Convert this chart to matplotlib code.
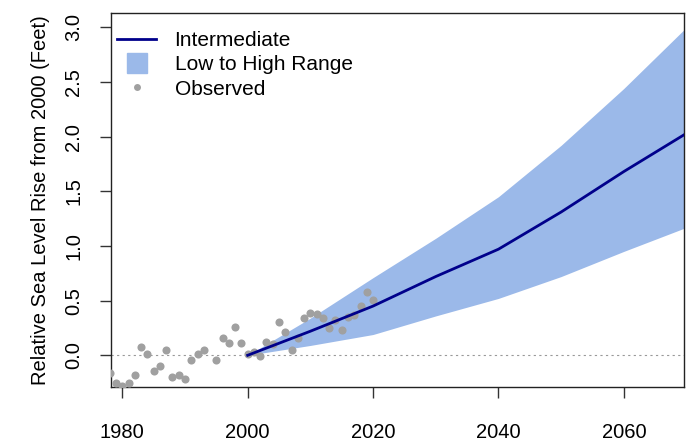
import numpy as np
import matplotlib
matplotlib.use("Agg")
import matplotlib.pyplot as plt
from matplotlib.lines import Line2D

plt.rcParams['font.family'] = ['Liberation Sans', 'DejaVu Sans']

# observed relative sea level (feet, relative to 2000)
obs_years = [1978, 1979, 1980, 1981, 1982, 1983, 1984, 1985, 1986, 1987,
             1988, 1989, 1990, 1991, 1992, 1993, 1995, 1996, 1997, 1998,
             1999, 2000, 2001, 2002, 2003, 2004, 2005, 2006, 2007, 2008,
             2009, 2010, 2011, 2012, 2013, 2014, 2015, 2016, 2017, 2018,
             2019, 2020]
obs_vals = [-0.16, -0.25, -0.28, -0.25, -0.18, 0.08, 0.01, -0.14, -0.10, 0.05,
            -0.20, -0.18, -0.22, -0.04, 0.01, 0.05, -0.04, 0.16, 0.11, 0.26,
            0.11, 0.01, 0.03, -0.01, 0.12, 0.10, 0.30, 0.21, 0.05, 0.16,
            0.34, 0.39, 0.38, 0.34, 0.25, 0.32, 0.23, 0.35, 0.37, 0.45,
            0.58, 0.51]

# scenarios
proj_years = [2000, 2010, 2020, 2030, 2040, 2050, 2060, 2070]
intermediate = [0.0, 0.22, 0.45, 0.72, 0.97, 1.31, 1.68, 2.03]
low = [0.0, 0.09, 0.19, 0.36, 0.52, 0.72, 0.95, 1.17]
high = [0.0, 0.34, 0.71, 1.07, 1.45, 1.92, 2.44, 3.0]

xticks = [1980, 2000, 2020, 2040, 2060]
yticks = [0.0, 0.5, 1.0, 1.5, 2.0, 2.5, 3.0]

band_col = '#9bb9e9'
line_col = '#00008b'
pt_col = '#a0a0a0'

fig = plt.figure(figsize=(6.86, 4.44), dpi=100)
ax = fig.add_axes([111/686, 57/444, 573/686, 374/444])

ax.axhline(0, color='#999999', lw=0.8, ls=(0, (2, 3)), zorder=1)
ax.fill_between(proj_years, low, high, color=band_col, lw=0, zorder=2)
ax.scatter(obs_years, obs_vals, s=34, color=pt_col, lw=0, zorder=3)
ax.plot(proj_years, intermediate, color=line_col, lw=2.0, zorder=4)

ax.set_xlim(1978.2, 2069.6)
ax.set_ylim(-0.29, 3.13)
ax.set_xticks(xticks)
ax.set_xticklabels([str(t) for t in xticks])
ax.set_yticks(yticks)
ax.set_yticklabels(['%.1f' % t for t in yticks], rotation=90, va='center')
ax.tick_params(axis='both', direction='out', length=8, width=1,
               labelsize=14.5, color='#333333')
ax.tick_params(axis='x', pad=18)
ax.tick_params(axis='y', pad=12)
for s in ax.spines.values():
    s.set_linewidth(1)
    s.set_color('#222222')

ax.set_ylabel('Relative Sea Level Rise from 2000 (Feet)', fontsize=14.5,
              labelpad=10)

handles = [
    Line2D([], [], color=line_col, lw=2.0),
    Line2D([], [], marker='s', color=band_col, ls='none', markersize=15),
    Line2D([], [], marker='o', color=pt_col, ls='none', markersize=5,
           markeredgewidth=0),
]
ax.legend(handles, ['Intermediate', 'Low to High Range', 'Observed'],
          loc='upper left', frameon=False, fontsize=15, handlelength=1.85,
          handletextpad=0.9, labelspacing=0.25, borderaxespad=0.0,
          borderpad=0.3, bbox_to_anchor=(0.0, 0.968))

fig.savefig('out.png', dpi=100)
